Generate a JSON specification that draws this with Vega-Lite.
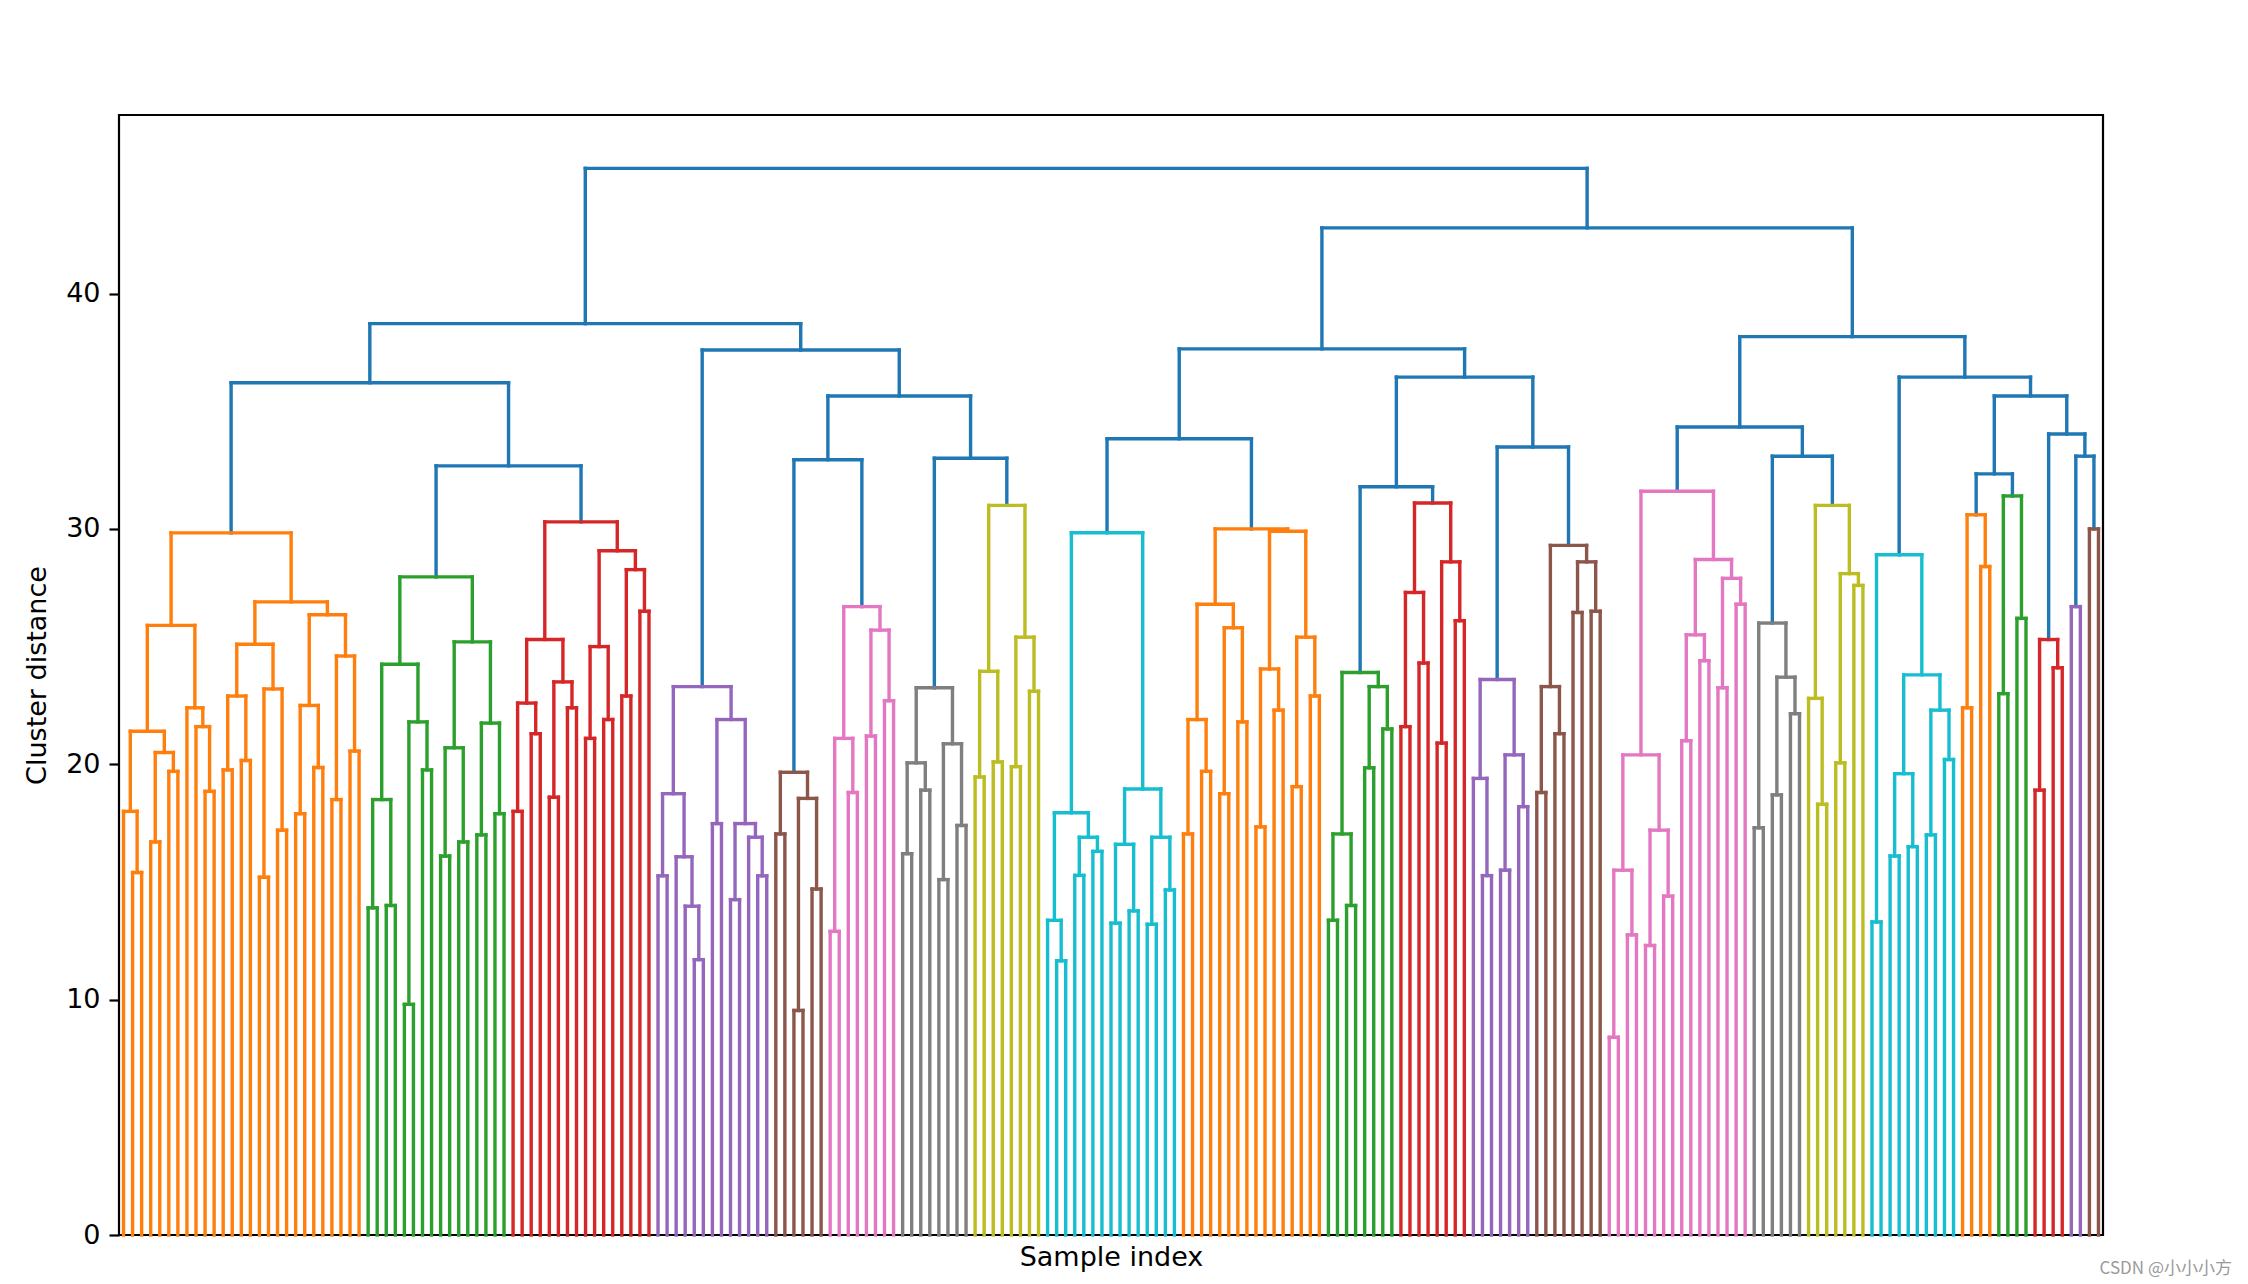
{
"$schema": "https://vega.github.io/schema/vega-lite/v6.json",
"width": 1984, "height": 1120,
"autosize": {"type": "none"},
"padding": {"left": 119, "top": 115, "right": 145, "bottom": 49},
"background": "white",
"title": {"text": "CSDN @小小小方", "orient": "bottom", "anchor": "end", "dx": 129, "offset": -9, "fontSize": 17, "font": "Noto Sans CJK SC", "fontWeight": "normal", "color": "#9a9a9a"},
"config": {
  "view": {"stroke": "black", "strokeWidth": 2.2},
  "axis": {"labelFont": "DejaVu Sans", "labelFontSize": 27, "labelColor": "black", "titleFont": "DejaVu Sans", "titleFontSize": 27, "titleFontWeight": "normal", "titleColor": "black", "tickColor": "black", "tickWidth": 2.2, "tickSize": 10, "labelPadding": 9, "grid": false, "domain": false}
},
"data": {"values": [
{"xl":1,"xr":2,"yl":0,"yr":0,"h":15.4,"c":"C1"},
{"xl":0,"xr":1.5,"yl":0,"yr":15.4,"h":18.0,"c":"C1"},
{"xl":3,"xr":4,"yl":0,"yr":0,"h":16.7,"c":"C1"},
{"xl":5,"xr":6,"yl":0,"yr":0,"h":19.7,"c":"C1"},
{"xl":3.5,"xr":5.5,"yl":16.7,"yr":19.7,"h":20.5,"c":"C1"},
{"xl":0.75,"xr":4.5,"yl":18.0,"yr":20.5,"h":21.4,"c":"C1"},
{"xl":9,"xr":10,"yl":0,"yr":0,"h":18.85,"c":"C1"},
{"xl":8,"xr":9.5,"yl":0,"yr":18.85,"h":21.6,"c":"C1"},
{"xl":7,"xr":8.75,"yl":0,"yr":21.6,"h":22.4,"c":"C1"},
{"xl":2.625,"xr":7.875,"yl":21.4,"yr":22.4,"h":25.9,"c":"C1"},
{"xl":11,"xr":12,"yl":0,"yr":0,"h":19.76,"c":"C1"},
{"xl":13,"xr":14,"yl":0,"yr":0,"h":20.16,"c":"C1"},
{"xl":11.5,"xr":13.5,"yl":19.76,"yr":20.16,"h":22.9,"c":"C1"},
{"xl":15,"xr":16,"yl":0,"yr":0,"h":15.2,"c":"C1"},
{"xl":17,"xr":18,"yl":0,"yr":0,"h":17.2,"c":"C1"},
{"xl":15.5,"xr":17.5,"yl":15.2,"yr":17.2,"h":23.2,"c":"C1"},
{"xl":12.5,"xr":16.5,"yl":22.9,"yr":23.2,"h":25.1,"c":"C1"},
{"xl":19,"xr":20,"yl":0,"yr":0,"h":17.9,"c":"C1"},
{"xl":21,"xr":22,"yl":0,"yr":0,"h":19.86,"c":"C1"},
{"xl":19.5,"xr":21.5,"yl":17.9,"yr":19.86,"h":22.5,"c":"C1"},
{"xl":23,"xr":24,"yl":0,"yr":0,"h":18.5,"c":"C1"},
{"xl":25,"xr":26,"yl":0,"yr":0,"h":20.56,"c":"C1"},
{"xl":23.5,"xr":25.5,"yl":18.5,"yr":20.56,"h":24.6,"c":"C1"},
{"xl":20.5,"xr":24.5,"yl":22.5,"yr":24.6,"h":26.35,"c":"C1"},
{"xl":14.5,"xr":22.5,"yl":25.1,"yr":26.35,"h":26.9,"c":"C1"},
{"xl":5.25,"xr":18.5,"yl":25.9,"yr":26.9,"h":29.83,"c":"C1"},
{"xl":27,"xr":28,"yl":0,"yr":0,"h":13.9,"c":"C2"},
{"xl":29,"xr":30,"yl":0,"yr":0,"h":14.0,"c":"C2"},
{"xl":27.5,"xr":29.5,"yl":13.9,"yr":14.0,"h":18.5,"c":"C2"},
{"xl":31,"xr":32,"yl":0,"yr":0,"h":9.8,"c":"C2"},
{"xl":33,"xr":34,"yl":0,"yr":0,"h":19.76,"c":"C2"},
{"xl":31.5,"xr":33.5,"yl":9.8,"yr":19.76,"h":21.8,"c":"C2"},
{"xl":28.5,"xr":32.5,"yl":18.5,"yr":21.8,"h":24.25,"c":"C2"},
{"xl":35,"xr":36,"yl":0,"yr":0,"h":16.1,"c":"C2"},
{"xl":37,"xr":38,"yl":0,"yr":0,"h":16.7,"c":"C2"},
{"xl":35.5,"xr":37.5,"yl":16.1,"yr":16.7,"h":20.7,"c":"C2"},
{"xl":39,"xr":40,"yl":0,"yr":0,"h":17.0,"c":"C2"},
{"xl":41,"xr":42,"yl":0,"yr":0,"h":17.9,"c":"C2"},
{"xl":39.5,"xr":41.5,"yl":17.0,"yr":17.9,"h":21.75,"c":"C2"},
{"xl":36.5,"xr":40.5,"yl":20.7,"yr":21.75,"h":25.2,"c":"C2"},
{"xl":30.5,"xr":38.5,"yl":24.25,"yr":25.2,"h":27.96,"c":"C2"},
{"xl":43,"xr":44,"yl":0,"yr":0,"h":18.0,"c":"C3"},
{"xl":45,"xr":46,"yl":0,"yr":0,"h":21.3,"c":"C3"},
{"xl":43.5,"xr":45.5,"yl":18.0,"yr":21.3,"h":22.6,"c":"C3"},
{"xl":47,"xr":48,"yl":0,"yr":0,"h":18.6,"c":"C3"},
{"xl":49,"xr":50,"yl":0,"yr":0,"h":22.4,"c":"C3"},
{"xl":47.5,"xr":49.5,"yl":18.6,"yr":22.4,"h":23.5,"c":"C3"},
{"xl":44.5,"xr":48.5,"yl":22.6,"yr":23.5,"h":25.3,"c":"C3"},
{"xl":51,"xr":52,"yl":0,"yr":0,"h":21.1,"c":"C3"},
{"xl":53,"xr":54,"yl":0,"yr":0,"h":21.9,"c":"C3"},
{"xl":51.5,"xr":53.5,"yl":21.1,"yr":21.9,"h":25.0,"c":"C3"},
{"xl":55,"xr":56,"yl":0,"yr":0,"h":22.9,"c":"C3"},
{"xl":57,"xr":58,"yl":0,"yr":0,"h":26.5,"c":"C3"},
{"xl":55.5,"xr":57.5,"yl":22.9,"yr":26.5,"h":28.27,"c":"C3"},
{"xl":52.5,"xr":56.5,"yl":25.0,"yr":28.27,"h":29.07,"c":"C3"},
{"xl":46.5,"xr":54.5,"yl":25.3,"yr":29.07,"h":30.3,"c":"C3"},
{"xl":34.5,"xr":50.5,"yl":27.96,"yr":30.3,"h":32.68,"c":"C0"},
{"xl":11.875,"xr":42.5,"yl":29.83,"yr":32.68,"h":36.21,"c":"C0"},
{"xl":59,"xr":60,"yl":0,"yr":0,"h":15.26,"c":"C4"},
{"xl":63,"xr":64,"yl":0,"yr":0,"h":11.7,"c":"C4"},
{"xl":62,"xr":63.5,"yl":0,"yr":11.7,"h":13.97,"c":"C4"},
{"xl":61,"xr":62.75,"yl":0,"yr":13.97,"h":16.07,"c":"C4"},
{"xl":59.5,"xr":61.875,"yl":15.26,"yr":16.07,"h":18.75,"c":"C4"},
{"xl":65,"xr":66,"yl":0,"yr":0,"h":17.48,"c":"C4"},
{"xl":67,"xr":68,"yl":0,"yr":0,"h":14.25,"c":"C4"},
{"xl":70,"xr":71,"yl":0,"yr":0,"h":15.26,"c":"C4"},
{"xl":69,"xr":70.5,"yl":0,"yr":15.26,"h":16.9,"c":"C4"},
{"xl":67.5,"xr":69.75,"yl":14.25,"yr":16.9,"h":17.48,"c":"C4"},
{"xl":65.5,"xr":68.625,"yl":17.48,"yr":17.48,"h":21.9,"c":"C4"},
{"xl":60.6875,"xr":67.0625,"yl":18.75,"yr":21.9,"h":23.3,"c":"C4"},
{"xl":72,"xr":73,"yl":0,"yr":0,"h":17.04,"c":"C5"},
{"xl":74,"xr":75,"yl":0,"yr":0,"h":9.54,"c":"C5"},
{"xl":76,"xr":77,"yl":0,"yr":0,"h":14.7,"c":"C5"},
{"xl":74.5,"xr":76.5,"yl":9.54,"yr":14.7,"h":18.55,"c":"C5"},
{"xl":72.5,"xr":75.5,"yl":17.04,"yr":18.55,"h":19.66,"c":"C5"},
{"xl":78,"xr":79,"yl":0,"yr":0,"h":12.9,"c":"C6"},
{"xl":80,"xr":81,"yl":0,"yr":0,"h":18.8,"c":"C6"},
{"xl":78.5,"xr":80.5,"yl":12.9,"yr":18.8,"h":21.1,"c":"C6"},
{"xl":82,"xr":83,"yl":0,"yr":0,"h":21.2,"c":"C6"},
{"xl":84,"xr":85,"yl":0,"yr":0,"h":22.7,"c":"C6"},
{"xl":82.5,"xr":84.5,"yl":21.2,"yr":22.7,"h":25.7,"c":"C6"},
{"xl":79.5,"xr":83.5,"yl":21.1,"yr":25.7,"h":26.7,"c":"C6"},
{"xl":74,"xr":81.5,"yl":19.66,"yr":26.7,"h":32.94,"c":"C0"},
{"xl":86,"xr":87,"yl":0,"yr":0,"h":16.2,"c":"C7"},
{"xl":88,"xr":89,"yl":0,"yr":0,"h":18.9,"c":"C7"},
{"xl":86.5,"xr":88.5,"yl":16.2,"yr":18.9,"h":20.06,"c":"C7"},
{"xl":90,"xr":91,"yl":0,"yr":0,"h":15.1,"c":"C7"},
{"xl":92,"xr":93,"yl":0,"yr":0,"h":17.4,"c":"C7"},
{"xl":90.5,"xr":92.5,"yl":15.1,"yr":17.4,"h":20.87,"c":"C7"},
{"xl":87.5,"xr":91.5,"yl":20.06,"yr":20.87,"h":23.25,"c":"C7"},
{"xl":94,"xr":95,"yl":0,"yr":0,"h":19.46,"c":"C8"},
{"xl":96,"xr":97,"yl":0,"yr":0,"h":20.1,"c":"C8"},
{"xl":94.5,"xr":96.5,"yl":19.46,"yr":20.1,"h":23.95,"c":"C8"},
{"xl":98,"xr":99,"yl":0,"yr":0,"h":19.9,"c":"C8"},
{"xl":100,"xr":101,"yl":0,"yr":0,"h":23.1,"c":"C8"},
{"xl":98.5,"xr":100.5,"yl":19.9,"yr":23.1,"h":25.4,"c":"C8"},
{"xl":95.5,"xr":99.5,"yl":23.95,"yr":25.4,"h":31.0,"c":"C8"},
{"xl":89.5,"xr":97.5,"yl":23.25,"yr":31.0,"h":33.0,"c":"C0"},
{"xl":77.75,"xr":93.5,"yl":32.94,"yr":33.0,"h":35.65,"c":"C0"},
{"xl":63.875,"xr":85.625,"yl":23.3,"yr":35.65,"h":37.6,"c":"C0"},
{"xl":27.1875,"xr":74.75,"yl":36.21,"yr":37.6,"h":38.72,"c":"C0"},
{"xl":103,"xr":104,"yl":0,"yr":0,"h":11.65,"c":"C9"},
{"xl":102,"xr":103.5,"yl":0,"yr":11.65,"h":13.37,"c":"C9"},
{"xl":105,"xr":106,"yl":0,"yr":0,"h":15.28,"c":"C9"},
{"xl":107,"xr":108,"yl":0,"yr":0,"h":16.3,"c":"C9"},
{"xl":105.5,"xr":107.5,"yl":15.28,"yr":16.3,"h":16.9,"c":"C9"},
{"xl":102.75,"xr":106.5,"yl":13.37,"yr":16.9,"h":17.94,"c":"C9"},
{"xl":109,"xr":110,"yl":0,"yr":0,"h":13.25,"c":"C9"},
{"xl":111,"xr":112,"yl":0,"yr":0,"h":13.77,"c":"C9"},
{"xl":109.5,"xr":111.5,"yl":13.25,"yr":13.77,"h":16.6,"c":"C9"},
{"xl":113,"xr":114,"yl":0,"yr":0,"h":13.2,"c":"C9"},
{"xl":115,"xr":116,"yl":0,"yr":0,"h":14.66,"c":"C9"},
{"xl":113.5,"xr":115.5,"yl":13.2,"yr":14.66,"h":16.9,"c":"C9"},
{"xl":110.5,"xr":114.5,"yl":16.6,"yr":16.9,"h":18.95,"c":"C9"},
{"xl":104.625,"xr":112.5,"yl":17.94,"yr":18.95,"h":29.84,"c":"C9"},
{"xl":117,"xr":118,"yl":0,"yr":0,"h":17.04,"c":"C1"},
{"xl":119,"xr":120,"yl":0,"yr":0,"h":19.7,"c":"C1"},
{"xl":117.5,"xr":119.5,"yl":17.04,"yr":19.7,"h":21.9,"c":"C1"},
{"xl":121,"xr":122,"yl":0,"yr":0,"h":18.75,"c":"C1"},
{"xl":123,"xr":124,"yl":0,"yr":0,"h":21.8,"c":"C1"},
{"xl":121.5,"xr":123.5,"yl":18.75,"yr":21.8,"h":25.8,"c":"C1"},
{"xl":118.5,"xr":122.5,"yl":21.9,"yr":25.8,"h":26.8,"c":"C1"},
{"xl":125,"xr":126,"yl":0,"yr":0,"h":17.34,"c":"C1"},
{"xl":127,"xr":128,"yl":0,"yr":0,"h":22.3,"c":"C1"},
{"xl":125.5,"xr":127.5,"yl":17.34,"yr":22.3,"h":24.05,"c":"C1"},
{"xl":129,"xr":130,"yl":0,"yr":0,"h":19.05,"c":"C1"},
{"xl":131,"xr":132,"yl":0,"yr":0,"h":22.9,"c":"C1"},
{"xl":129.5,"xr":131.5,"yl":19.05,"yr":22.9,"h":25.4,"c":"C1"},
{"xl":126.5,"xr":130.5,"yl":24.05,"yr":25.4,"h":29.9,"c":"C1"},
{"xl":120.5,"xr":128.5,"yl":26.8,"yr":29.9,"h":30.0,"c":"C1"},
{"xl":108.5625,"xr":124.5,"yl":29.84,"yr":30.0,"h":33.83,"c":"C0"},
{"xl":133,"xr":134,"yl":0,"yr":0,"h":13.37,"c":"C2"},
{"xl":135,"xr":136,"yl":0,"yr":0,"h":14.0,"c":"C2"},
{"xl":133.5,"xr":135.5,"yl":13.37,"yr":14.0,"h":17.04,"c":"C2"},
{"xl":137,"xr":138,"yl":0,"yr":0,"h":19.85,"c":"C2"},
{"xl":139,"xr":140,"yl":0,"yr":0,"h":21.5,"c":"C2"},
{"xl":137.5,"xr":139.5,"yl":19.85,"yr":21.5,"h":23.3,"c":"C2"},
{"xl":134.5,"xr":138.5,"yl":17.04,"yr":23.3,"h":23.9,"c":"C2"},
{"xl":141,"xr":142,"yl":0,"yr":0,"h":21.6,"c":"C3"},
{"xl":143,"xr":144,"yl":0,"yr":0,"h":24.3,"c":"C3"},
{"xl":141.5,"xr":143.5,"yl":21.6,"yr":24.3,"h":27.3,"c":"C3"},
{"xl":145,"xr":146,"yl":0,"yr":0,"h":20.9,"c":"C3"},
{"xl":147,"xr":148,"yl":0,"yr":0,"h":26.1,"c":"C3"},
{"xl":145.5,"xr":147.5,"yl":20.9,"yr":26.1,"h":28.6,"c":"C3"},
{"xl":142.5,"xr":146.5,"yl":27.3,"yr":28.6,"h":31.1,"c":"C3"},
{"xl":136.5,"xr":144.5,"yl":23.9,"yr":31.1,"h":31.79,"c":"C0"},
{"xl":150,"xr":151,"yl":0,"yr":0,"h":15.27,"c":"C4"},
{"xl":149,"xr":150.5,"yl":0,"yr":15.27,"h":19.4,"c":"C4"},
{"xl":152,"xr":153,"yl":0,"yr":0,"h":15.5,"c":"C4"},
{"xl":154,"xr":155,"yl":0,"yr":0,"h":18.2,"c":"C4"},
{"xl":152.5,"xr":154.5,"yl":15.5,"yr":18.2,"h":20.4,"c":"C4"},
{"xl":149.75,"xr":153.5,"yl":19.4,"yr":20.4,"h":23.6,"c":"C4"},
{"xl":156,"xr":157,"yl":0,"yr":0,"h":18.8,"c":"C5"},
{"xl":158,"xr":159,"yl":0,"yr":0,"h":21.3,"c":"C5"},
{"xl":156.5,"xr":158.5,"yl":18.8,"yr":21.3,"h":23.3,"c":"C5"},
{"xl":160,"xr":161,"yl":0,"yr":0,"h":26.45,"c":"C5"},
{"xl":162,"xr":163,"yl":0,"yr":0,"h":26.5,"c":"C5"},
{"xl":160.5,"xr":162.5,"yl":26.45,"yr":26.5,"h":28.6,"c":"C5"},
{"xl":157.5,"xr":161.5,"yl":23.3,"yr":28.6,"h":29.3,"c":"C5"},
{"xl":151.625,"xr":159.5,"yl":23.6,"yr":29.3,"h":33.48,"c":"C0"},
{"xl":140.5,"xr":155.5625,"yl":31.79,"yr":33.48,"h":36.45,"c":"C0"},
{"xl":116.53125,"xr":148.03125,"yl":33.83,"yr":36.45,"h":37.65,"c":"C0"},
{"xl":164,"xr":165,"yl":0,"yr":0,"h":8.4,"c":"C6"},
{"xl":166,"xr":167,"yl":0,"yr":0,"h":12.75,"c":"C6"},
{"xl":164.5,"xr":166.5,"yl":8.4,"yr":12.75,"h":15.5,"c":"C6"},
{"xl":168,"xr":169,"yl":0,"yr":0,"h":12.3,"c":"C6"},
{"xl":170,"xr":171,"yl":0,"yr":0,"h":14.4,"c":"C6"},
{"xl":168.5,"xr":170.5,"yl":12.3,"yr":14.4,"h":17.2,"c":"C6"},
{"xl":165.5,"xr":169.5,"yl":15.5,"yr":17.2,"h":20.4,"c":"C6"},
{"xl":172,"xr":173,"yl":0,"yr":0,"h":21.0,"c":"C6"},
{"xl":174,"xr":175,"yl":0,"yr":0,"h":24.4,"c":"C6"},
{"xl":172.5,"xr":174.5,"yl":21.0,"yr":24.4,"h":25.5,"c":"C6"},
{"xl":176,"xr":177,"yl":0,"yr":0,"h":23.25,"c":"C6"},
{"xl":178,"xr":179,"yl":0,"yr":0,"h":26.8,"c":"C6"},
{"xl":176.5,"xr":178.5,"yl":23.25,"yr":26.8,"h":27.9,"c":"C6"},
{"xl":173.5,"xr":177.5,"yl":25.5,"yr":27.9,"h":28.7,"c":"C6"},
{"xl":167.5,"xr":175.5,"yl":20.4,"yr":28.7,"h":31.6,"c":"C6"},
{"xl":180,"xr":181,"yl":0,"yr":0,"h":17.3,"c":"C7"},
{"xl":182,"xr":183,"yl":0,"yr":0,"h":18.7,"c":"C7"},
{"xl":184,"xr":185,"yl":0,"yr":0,"h":22.15,"c":"C7"},
{"xl":182.5,"xr":184.5,"yl":18.7,"yr":22.15,"h":23.7,"c":"C7"},
{"xl":180.5,"xr":183.5,"yl":17.3,"yr":23.7,"h":26.0,"c":"C7"},
{"xl":187,"xr":188,"yl":0,"yr":0,"h":18.3,"c":"C8"},
{"xl":186,"xr":187.5,"yl":0,"yr":18.3,"h":22.8,"c":"C8"},
{"xl":189,"xr":190,"yl":0,"yr":0,"h":20.06,"c":"C8"},
{"xl":191,"xr":192,"yl":0,"yr":0,"h":27.6,"c":"C8"},
{"xl":189.5,"xr":191.5,"yl":20.06,"yr":27.6,"h":28.1,"c":"C8"},
{"xl":186.75,"xr":190.5,"yl":22.8,"yr":28.1,"h":31.0,"c":"C8"},
{"xl":182,"xr":188.625,"yl":26.0,"yr":31.0,"h":33.09,"c":"C0"},
{"xl":171.5,"xr":185.3125,"yl":31.6,"yr":33.09,"h":34.33,"c":"C0"},
{"xl":193,"xr":194,"yl":0,"yr":0,"h":13.3,"c":"C9"},
{"xl":195,"xr":196,"yl":0,"yr":0,"h":16.1,"c":"C9"},
{"xl":197,"xr":198,"yl":0,"yr":0,"h":16.5,"c":"C9"},
{"xl":195.5,"xr":197.5,"yl":16.1,"yr":16.5,"h":19.6,"c":"C9"},
{"xl":199,"xr":200,"yl":0,"yr":0,"h":17.0,"c":"C9"},
{"xl":201,"xr":202,"yl":0,"yr":0,"h":20.2,"c":"C9"},
{"xl":199.5,"xr":201.5,"yl":17.0,"yr":20.2,"h":22.3,"c":"C9"},
{"xl":196.5,"xr":200.5,"yl":19.6,"yr":22.3,"h":23.8,"c":"C9"},
{"xl":193.5,"xr":198.5,"yl":13.3,"yr":23.8,"h":28.9,"c":"C9"},
{"xl":203,"xr":204,"yl":0,"yr":0,"h":22.4,"c":"C1"},
{"xl":205,"xr":206,"yl":0,"yr":0,"h":28.4,"c":"C1"},
{"xl":203.5,"xr":205.5,"yl":22.4,"yr":28.4,"h":30.6,"c":"C1"},
{"xl":207,"xr":208,"yl":0,"yr":0,"h":23.0,"c":"C2"},
{"xl":209,"xr":210,"yl":0,"yr":0,"h":26.2,"c":"C2"},
{"xl":207.5,"xr":209.5,"yl":23.0,"yr":26.2,"h":31.4,"c":"C2"},
{"xl":204.5,"xr":208.5,"yl":30.6,"yr":31.4,"h":32.34,"c":"C0"},
{"xl":211,"xr":212,"yl":0,"yr":0,"h":18.9,"c":"C3"},
{"xl":213,"xr":214,"yl":0,"yr":0,"h":24.1,"c":"C3"},
{"xl":211.5,"xr":213.5,"yl":18.9,"yr":24.1,"h":25.3,"c":"C3"},
{"xl":215,"xr":216,"yl":0,"yr":0,"h":26.7,"c":"C4"},
{"xl":217,"xr":218,"yl":0,"yr":0,"h":30.0,"c":"C5"},
{"xl":215.5,"xr":217.5,"yl":26.7,"yr":30.0,"h":33.09,"c":"C0"},
{"xl":212.5,"xr":216.5,"yl":25.3,"yr":33.09,"h":34.03,"c":"C0"},
{"xl":206.5,"xr":214.5,"yl":32.34,"yr":34.03,"h":35.65,"c":"C0"},
{"xl":196,"xr":210.5,"yl":28.9,"yr":35.65,"h":36.45,"c":"C0"},
{"xl":178.40625,"xr":203.25,"yl":34.33,"yr":36.45,"h":38.17,"c":"C0"},
{"xl":132.28125,"xr":190.828125,"yl":37.65,"yr":38.17,"h":42.79,"c":"C0"},
{"xl":50.96875,"xr":161.5546875,"yl":38.72,"yr":42.79,"h":45.32,"c":"C0"}
]},
"encoding": {
  "color": {"field": "c", "type": "nominal", "legend": null, "scale": {"domain": ["C0","C1","C2","C3","C4","C5","C6","C7","C8","C9"], "range": ["#1f77b4","#ff7f0e","#2ca02c","#d62728","#9467bd","#8c564b","#e377c2","#7f7f7f","#bcbd22","#17becf"]}}
},
"layer": [
  {"mark": {"type": "rule", "strokeWidth": 3.4, "strokeCap": "square"},
   "encoding": {
     "x": {"field": "xl", "type": "quantitative", "scale": {"domain": [-0.5, 218.5], "nice": false, "zero": false}, "axis": {"title": "Sample index", "ticks": false, "labels": false, "titlePadding": 9}},
     "y": {"field": "yl", "type": "quantitative", "scale": {"domain": [0, 47.586], "nice": false, "zero": false}, "axis": {"title": "Cluster distance", "values": [0, 10, 20, 30, 40], "titlePadding": 14}},
     "y2": {"field": "h"}}},
  {"mark": {"type": "rule", "strokeWidth": 3.4, "strokeCap": "square"},
   "encoding": {
     "x": {"field": "xr", "type": "quantitative", "axis": {"title": "Sample index", "ticks": false, "labels": false, "titlePadding": 9}},
     "y": {"field": "yr", "type": "quantitative", "axis": {"title": "Cluster distance", "values": [0, 10, 20, 30, 40], "titlePadding": 14}},
     "y2": {"field": "h"}}},
  {"mark": {"type": "rule", "strokeWidth": 3.4, "strokeCap": "square"},
   "encoding": {
     "x": {"field": "xl", "type": "quantitative", "axis": {"title": "Sample index", "ticks": false, "labels": false, "titlePadding": 9}},
     "x2": {"field": "xr"},
     "y": {"field": "h", "type": "quantitative", "axis": {"title": "Cluster distance", "values": [0, 10, 20, 30, 40], "titlePadding": 14}}}}
]
}
